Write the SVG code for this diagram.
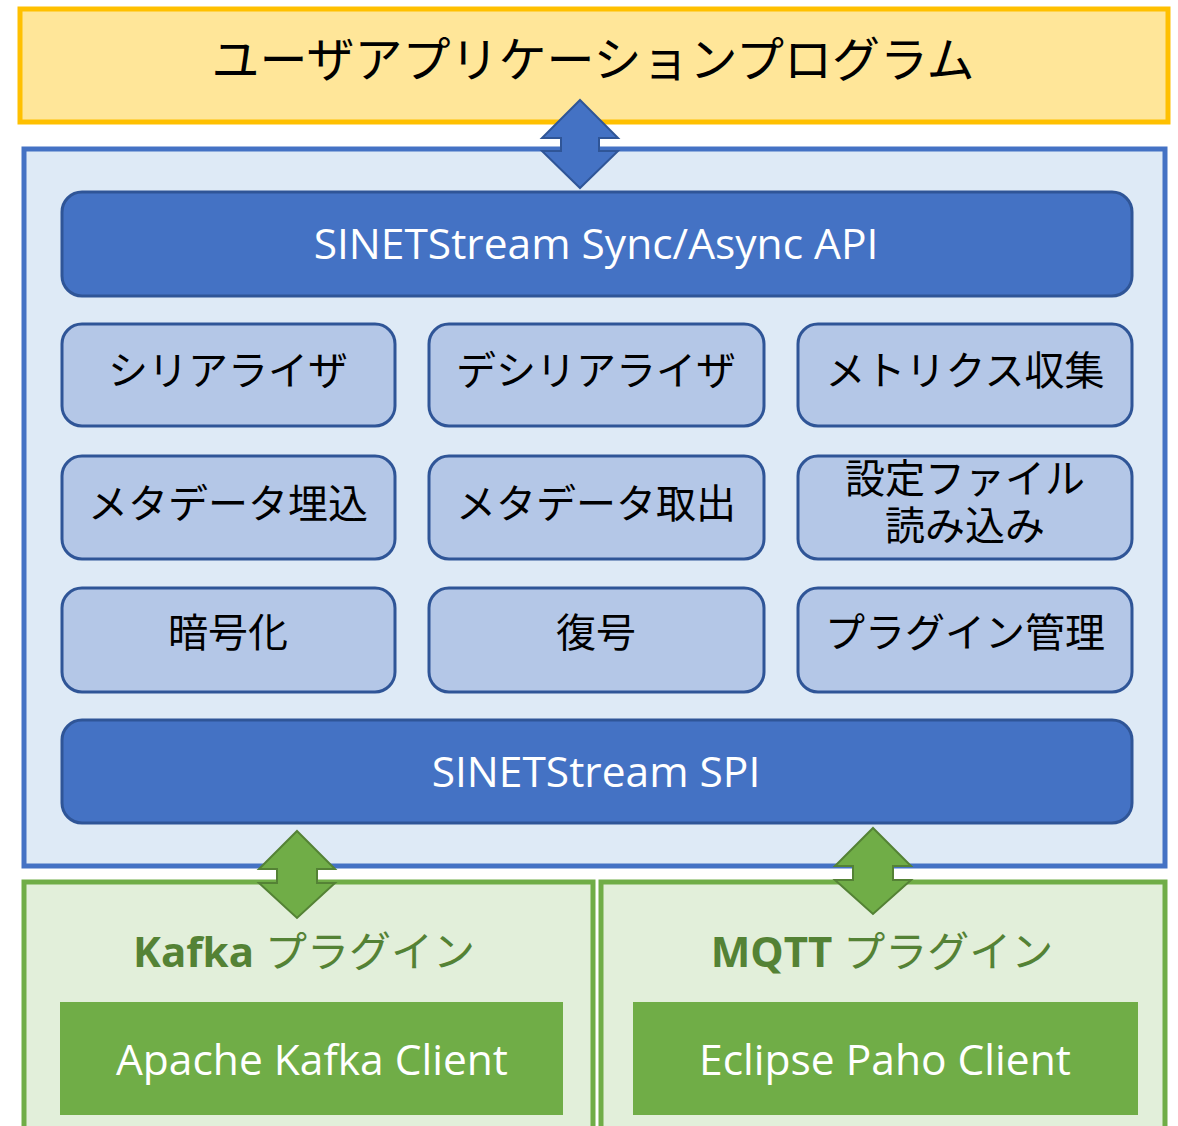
<svg xmlns="http://www.w3.org/2000/svg" width="1178" height="1126" viewBox="0 0 1178 1126">
<defs>
<style>
text{font-family:"Open Sans","Noto Sans CJK JP",sans-serif;text-anchor:middle}
.mod rect{fill:#B4C7E7;stroke:#2F5597;stroke-width:3}
.mod text{font-size:40px;fill:#000}
.bar rect{fill:#4472C4;stroke:#2F5597;stroke-width:3}
.bar text{font-size:42.5px;fill:#fff}
.plug>rect{fill:#E2EFDA;stroke:#70AD47;stroke-width:5}
.plug text.t{font-size:42px;fill:#548235}
.cli rect{fill:#70AD47}
.cli text{font-size:42.5px;fill:#fff}
.ba{fill:#4472C4;stroke:#2F5597;stroke-width:2}
.ga{fill:#70AD47;stroke:#548235;stroke-width:2}
</style>
</defs>
<rect width="1178" height="1126" fill="#fff"/>
<g id="user-app">
<rect x="20" y="9" width="1148" height="113" fill="#FFE699" stroke="#FFC000" stroke-width="5"/>
<text x="593" y="77" font-size="48" fill="#000">ユーザアプリケーションプログラム</text>
</g>
<g id="sinetstream">
<rect x="24" y="149" width="1141" height="717" fill="#DEEAF6" stroke="#4472C4" stroke-width="5"/>
</g>
<g id="api" class="bar">
<rect x="62" y="192" width="1070" height="104" rx="20"/>
<text x="596" y="259">SINETStream Sync/Async API</text>
</g>
<g id="serializer" class="mod"><rect x="62" y="324" width="333" height="102" rx="20"/><text x="228" y="385">シリアライザ</text></g>
<g id="deserializer" class="mod"><rect x="429" y="324" width="335" height="102" rx="20"/><text x="596" y="385">デシリアライザ</text></g>
<g id="metrics" class="mod"><rect x="798" y="324" width="334" height="102" rx="20"/><text x="965" y="385">メトリクス収集</text></g>
<g id="meta-embed" class="mod"><rect x="62" y="456" width="333" height="103" rx="20"/><text x="228" y="518">メタデータ埋込</text></g>
<g id="meta-extract" class="mod"><rect x="429" y="456" width="335" height="103" rx="20"/><text x="596" y="518">メタデータ取出</text></g>
<g id="config" class="mod"><rect x="798" y="456" width="334" height="103" rx="20"/><text x="965" y="493">設定ファイル</text><text x="965" y="540">読み込み</text></g>
<g id="encrypt" class="mod"><rect x="62" y="588" width="333" height="104" rx="20"/><text x="228" y="647">暗号化</text></g>
<g id="decrypt" class="mod"><rect x="429" y="588" width="335" height="104" rx="20"/><text x="596" y="647">復号</text></g>
<g id="plugin-mgmt" class="mod"><rect x="798" y="588" width="334" height="104" rx="20"/><text x="965" y="647">プラグイン管理</text></g>
<g id="spi" class="bar">
<rect x="62" y="720" width="1070" height="103" rx="20"/>
<text x="596" y="787">SINETStream SPI</text>
</g>
<g id="kafka-plugin" class="plug">
<rect x="24" y="882" width="569" height="270"/>
<text class="t" x="304" y="967"><tspan font-weight="bold">Kafka</tspan> プラグイン</text>
<g id="kafka-client" class="cli"><rect x="60" y="1002" width="503" height="113"/><text x="312" y="1075">Apache Kafka Client</text></g>
</g>
<g id="mqtt-plugin" class="plug">
<rect x="601" y="882" width="564" height="270"/>
<text class="t" x="882" y="967"><tspan font-weight="bold">MQTT</tspan> プラグイン</text>
<g id="paho-client" class="cli"><rect x="633" y="1002" width="505" height="113"/><text x="885" y="1075">Eclipse Paho Client</text></g>
</g>
<g id="connectors">
<path class="ba" d="M580,100 L618,138 L599,138 L599,151 L618,151 L580,188 L542,151 L561,151 L561,138 L542,138 Z"/>
<path class="ga" d="M297,831 L335,869 L317,869 L317,883 L335,883 L297,918 L259,883 L277,883 L277,869 L259,869 Z"/>
<path class="ga" d="M873,828 L911,866 L893,866 L893,880 L911,880 L873,914 L835,880 L853,880 L853,866 L835,866 Z"/>
</g>
</svg>
